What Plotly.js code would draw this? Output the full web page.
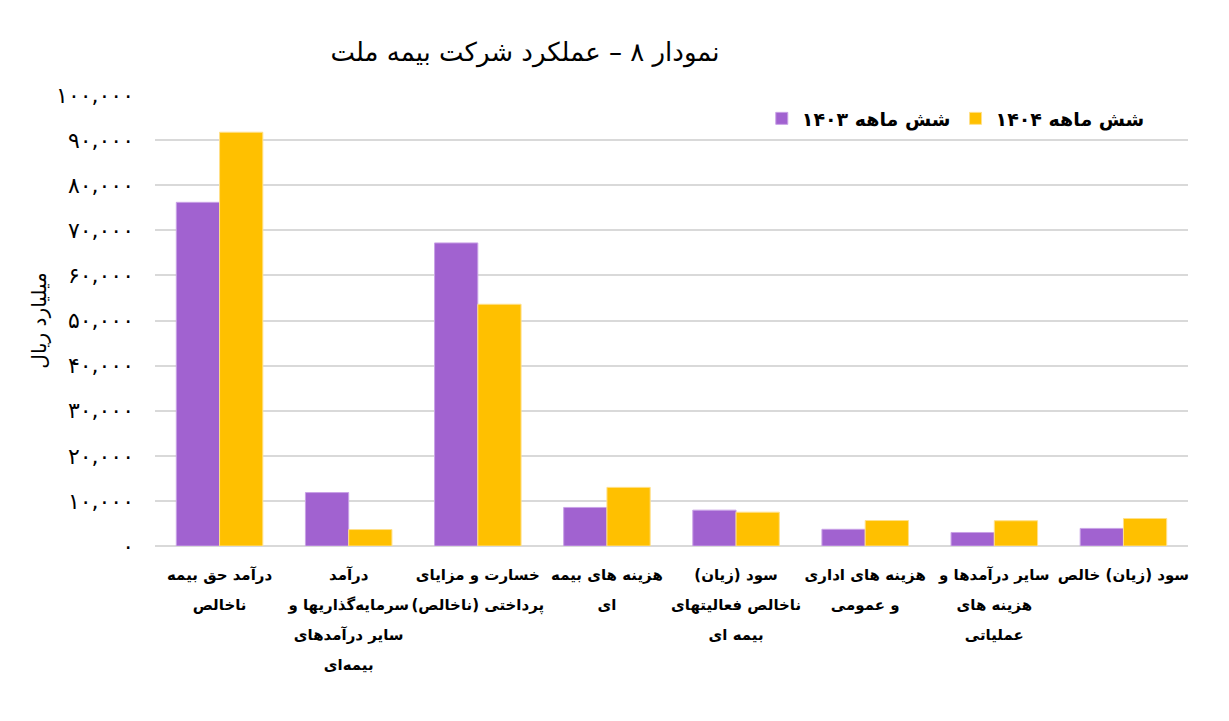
<!DOCTYPE html>
<html>
<head>
<meta charset="utf-8">
<script src="https://cdn.plot.ly/plotly-3.0.1.min.js"></script>
<style>
  html, body { margin: 0; padding: 0; background: #fff; }
  #chart { width: 1229px; height: 721px; }
</style>
</head>
<body>
<div id="chart"></div>
<script>
// categories (x axis), one entry per line of the label
const categoryLines = [
  ["درآمد حق بیمه", "ناخالص"],
  ["درآمد", "سرمایه‌گذاریها و", "سایر درآمدهای", "بیمه‌ای"],
  ["خسارت و مزایای", "پرداختی (ناخالص)"],
  ["هزینه های بیمه", "ای"],
  ["سود (زیان)", "ناخالص فعالیتهای", "بیمه ای"],
  ["هزینه های اداری", "و عمومی"],
  ["سایر درآمدها و", "هزینه های", "عملیاتی"],
  ["سود (زیان) خالص"],
];

// values in billion rials
const h1403 = [76200, 11850, 67200, 8550, 7950, 3700, 3000, 3900];
const h1404 = [91750, 3650, 53600, 13000, 7500, 5650, 5600, 6100];

const seriesNames = ["شش ماهه ۱۴۰۳", "شش ماهه ۱۴۰۴"];

// y ticks with persian digits
const tickVals = [0, 10000, 20000, 30000, 40000, 50000, 60000, 70000, 80000, 90000, 100000];
const tickText = ["۰", "۱۰,۰۰۰", "۲۰,۰۰۰", "۳۰,۰۰۰", "۴۰,۰۰۰", "۵۰,۰۰۰",
  "۶۰,۰۰۰", "۷۰,۰۰۰", "۸۰,۰۰۰", "۹۰,۰۰۰", "۱۰۰,۰۰۰"];

const font = "DejaVu Sans, Noto Sans, sans-serif";

// big outer font sets the line spacing, inner span sets the glyph size
const categories = categoryLines.map((lines) =>
  lines.map((l) => `<span style="font-size:15px">${l}</span>`).join("<br>")
);

const data = [
  {
    type: "bar",
    name: seriesNames[0],
    x: categories,
    y: h1403,
    marker: { color: "#A162D0", line: { color: "#C9A2E6", width: 1 } },
  },
  {
    type: "bar",
    name: seriesNames[1],
    x: categories,
    y: h1404,
    marker: { color: "#FFC000", line: { color: "#FFE08A", width: 1 } },
  },
];

const layout = {
  width: 1229,
  height: 721,
  margin: { t: 95, b: 175, l: 155, r: 41 },
  paper_bgcolor: "#fff",
  plot_bgcolor: "#fff",
  font: { family: font, color: "#000" },
  title: {
    text: "نمودار ۸ – عملکرد شرکت بیمه ملت",
    font: { size: 26, family: font, color: "#000" },
    x: 525 / 1229,
    xanchor: "center",
    y: 1 - 52 / 721,
    yanchor: "middle",
  },
  barmode: "group",
  bargap: 0.33,
  bargroupgap: 0,
  showlegend: true,
  legend: {
    orientation: "h",
    x: 0.963,
    xanchor: "right",
    y: 0.99,
    yanchor: "top",
    font: { size: 19, family: font, color: "#000", weight: "bold" },
    bgcolor: "rgba(255,255,255,0)",
    itemwidth: 30,
    tracegroupgap: 0,
  },
  xaxis: {
    type: "category",
    showgrid: false,
    showline: false,
    ticks: "",
    tickangle: 0,
    ticklabelstandoff: 10,
    tickfont: { size: 23, family: font, color: "#000", weight: "bold" },
  },
  yaxis: {
    range: [0, 100000],
    tickvals: tickVals,
    ticktext: tickText,
    tickfont: { size: 22, family: font, color: "#000" },
    ticklabelstandoff: 20,
    showgrid: true,
    gridcolor: "#d9d9d9",
    gridwidth: 2,
    zeroline: true,
    zerolinecolor: "#d9d9d9",
    zerolinewidth: 2,
    showline: false,
    ticks: "",
    title: {
      text: "میلیارد ریال",
      font: { size: 20, family: font, color: "#000" },
      standoff: 4,
    },
  },
};

Plotly.newPlot("chart", data, layout, { displayModeBar: false, responsive: false });
</script>
</body>
</html>
